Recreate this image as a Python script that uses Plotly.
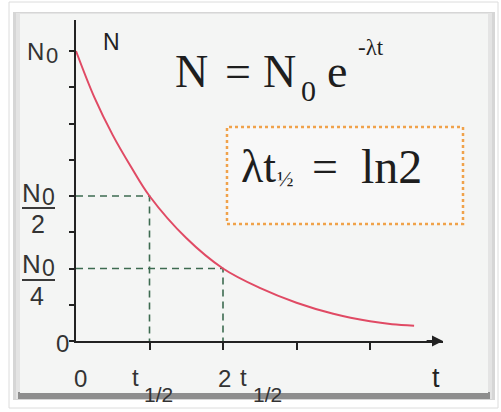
import plotly.graph_objects as go

# decay curve (t in half-lives, N as fraction of N0)
t_vals = [0, 0.25, 0.5, 0.75, 1.0, 1.5, 2.0, 2.5, 3.0, 3.5, 4.0, 4.3, 4.6]
n_vals = [1.0, 0.84, 0.71, 0.60, 0.50, 0.355, 0.25, 0.183, 0.132, 0.094, 0.068, 0.058, 0.053]

# dashed guides to the half-life points
half_t = [0, 1, 1]
half_n = [0.5, 0.5, 0]
quarter_t = [0, 2, 2]
quarter_n = [0.25, 0.25, 0]

x_ticks = [1, 2, 3, 4]
y_ticks = [0, 0.125, 0.25, 0.375, 0.5, 0.625, 0.75, 0.875, 1.0]

W, H = 501, 412

def px(x):
    return x / W

def py(y):
    return 1 - y / H

fig = go.Figure()

fig.add_trace(go.Scatter(x=half_t, y=half_n, mode="lines",
                         line=dict(color="#3d6b50", width=1.6, dash="7px,5px")))
fig.add_trace(go.Scatter(x=quarter_t, y=quarter_n, mode="lines",
                         line=dict(color="#3d6b50", width=1.6, dash="7px,5px")))
fig.add_trace(go.Scatter(x=t_vals, y=n_vals, mode="lines",
                         line=dict(color="#e04a64", width=2, shape="spline")))

# picture frame
shapes = [
    dict(type="rect", xref="paper", yref="paper", x0=px(9), x1=px(498), y0=py(408), y1=py(2),
         line=dict(color="#dcdcdc", width=1), fillcolor="white", layer="below"),
    dict(type="rect", xref="paper", yref="paper", x0=px(13), x1=px(495), y0=py(400), y1=py(12),
         line=dict(width=0), fillcolor="#d6d6d6", layer="below"),
    dict(type="rect", xref="paper", yref="paper", x0=px(16), x1=px(492), y0=py(399), y1=py(13),
         line=dict(width=0), fillcolor="#e4e4e4", layer="below"),
    dict(type="rect", xref="paper", yref="paper", x0=px(18), x1=px(490), y0=py(399), y1=py(392),
         line=dict(width=0), fillcolor="#8e8e8e", layer="below"),
    dict(type="rect", xref="paper", yref="paper", x0=px(20), x1=px(488), y0=py(393), y1=py(14),
         line=dict(width=0), fillcolor="#f4f5f4", layer="below"),
    # dotted box round the half-life relation
    dict(type="rect", xref="paper", yref="paper", x0=px(227), x1=px(463), y0=py(224), y1=py(127),
         line=dict(color="#f0a24a", width=2.5, dash="dot"), fillcolor="rgba(255,255,255,0.35)",
         layer="below"),
    # fraction bars of the y labels
    dict(type="line", xref="paper", yref="paper", x0=px(22), x1=px(55), y0=py(208), y1=py(208),
         line=dict(color="#3a3a3a", width=2)),
    dict(type="line", xref="paper", yref="paper", x0=px(22), x1=px(55), y0=py(280), y1=py(280),
         line=dict(color="#3a3a3a", width=2)),
]

SANS = "Liberation Sans, Arial, sans-serif"
SERIF = "Liberation Serif, Times New Roman, serif"

def label(text, x, y, size, family=SANS, color="#333"):
    return dict(text=text, xref="paper", yref="paper", x=px(x), y=py(y),
                xanchor="center", yanchor="middle", showarrow=False,
                font=dict(family=family, size=size, color=color))

annotations = [
    # y labels
    label("N", 35, 51, 24), label("0", 52, 55, 22),
    label("N", 31, 193, 26), label("0", 48, 197, 23), label("2", 38, 224, 25),
    label("N", 31, 264, 26), label("0", 48, 268, 23), label("4", 37, 296, 25),
    label("0", 63, 343, 24),
    label("N", 111, 42, 23, color="#222"),
    # x labels
    label("0", 80, 378, 24),
    label("t", 135, 377, 24), label("1/2", 158, 394, 21),
    label("2", 224, 378, 24), label("t", 243, 377, 24), label("1/2", 267, 394, 21),
    label("t", 436, 378, 27, color="#222"),
    # N = N0 e^-lt
    label("N", 191, 71, 46, SERIF, "#1e1e1e"),
    label("=", 238, 71, 46, SERIF, "#1e1e1e"),
    label("N", 279, 71, 46, SERIF, "#1e1e1e"),
    label("0", 308, 90, 30, SERIF, "#1e1e1e"),
    label("e", 337, 71, 46, SERIF, "#1e1e1e"),
    label("-λt", 371, 47, 23, SERIF, "#1e1e1e"),
    # lambda t_1/2 = ln2
    label("λt", 258, 166, 46, SERIF, "#1e1e1e"),
    label("½", 285, 178, 22, SERIF, "#1e1e1e"),
    label("=", 325, 166, 46, SERIF, "#1e1e1e"),
    label("ln2", 391, 166, 48, SERIF, "#1e1e1e"),
    # arrow at the end of the t axis
    dict(x=367 / 73.5, y=0, ax=4.75, ay=0, xref="x", yref="y", axref="x", ayref="y",
         text="", showarrow=True, arrowhead=2, arrowsize=1.1, arrowwidth=2, arrowcolor="#222"),
]

fig.update_layout(
    width=W, height=H,
    margin=dict(l=0, r=0, t=0, b=0),
    paper_bgcolor="white",
    plot_bgcolor="rgba(0,0,0,0)",
    showlegend=False,
    shapes=shapes,
    annotations=annotations,
    xaxis=dict(domain=[px(76), px(443)], range=[0, 367 / 73.5],
               showgrid=False, zeroline=False, showline=True, linecolor="#222", linewidth=2,
               ticks="outside", tickvals=x_ticks, ticklen=7, tickwidth=2, tickcolor="#222",
               showticklabels=False),
    yaxis=dict(domain=[py(341), py(20)], range=[0, 321 / 290],
               showgrid=False, zeroline=False, showline=True, linecolor="#222", linewidth=2,
               ticks="outside", tickvals=y_ticks, ticklen=5, tickwidth=2, tickcolor="#222",
               showticklabels=False),
)

fig.write_html("out.html", config={"displayModeBar": False},
               post_script="document.body.style.margin='0';")
